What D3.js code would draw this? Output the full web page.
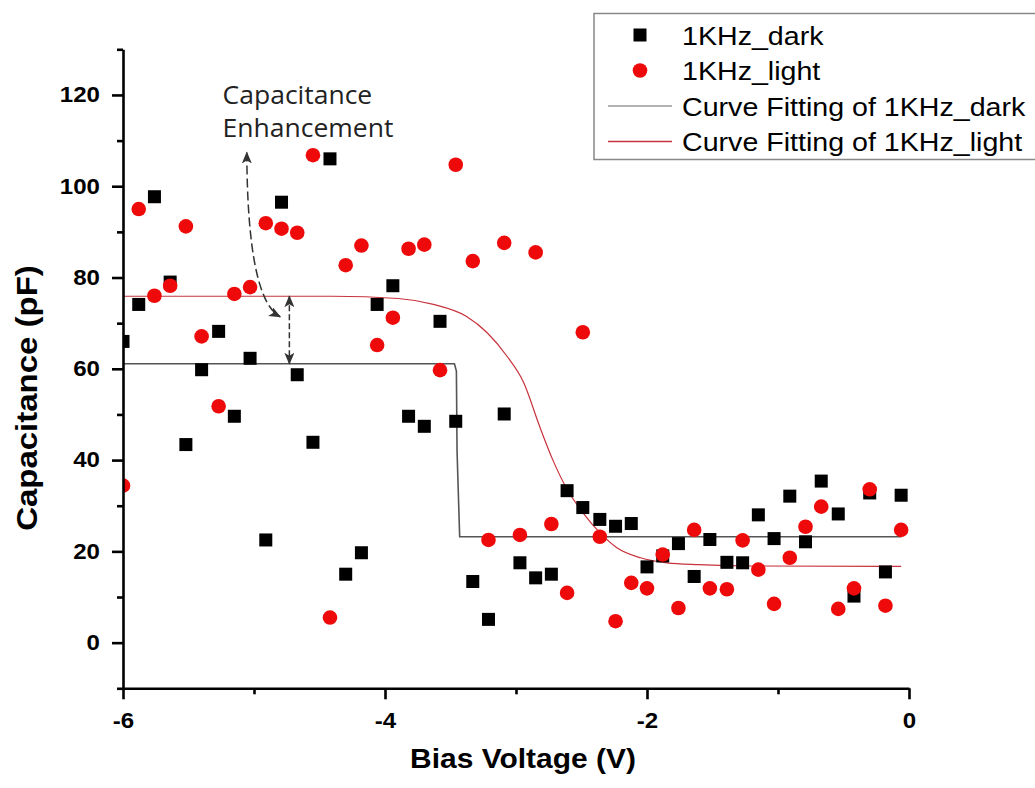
<!DOCTYPE html>
<html>
<head>
<meta charset="utf-8">
<script src="https://cdn.jsdelivr.net/npm/d3@7"></script>
<style>
  body { margin: 0; background: #fff; }
  #graphicContainer { width: 1035px; height: 788px; }
</style>
</head>
<body>
<div id="graphicContainer"></div>
<script>
// bias voltage of each measurement (V), shared by both series
var voltage = [-6.00, -5.88, -5.76, -5.64, -5.52, -5.40, -5.27, -5.15, -5.03, -4.91,
  -4.79, -4.67, -4.55, -4.42, -4.30, -4.18, -4.06, -3.94, -3.82, -3.70,
  -3.58, -3.46, -3.33, -3.21, -3.09, -2.97, -2.85, -2.73, -2.61, -2.49,
  -2.36, -2.24, -2.12, -2.00, -1.88, -1.76, -1.64, -1.52, -1.39, -1.27,
  -1.15, -1.03, -0.91, -0.79, -0.67, -0.54, -0.42, -0.30, -0.18, -0.06]

var darkCap = [66.0, 74.1, 97.7, 79.0, 43.4, 59.8, 68.2, 49.6, 62.3, 22.5,
  96.5, 58.7, 43.9, 106.0, 15.0, 19.7, 74.1, 78.2, 49.6, 47.4,
  70.4, 48.5, 13.4, 5.1, 50.1, 17.5, 14.2, 15.0, 33.3, 29.6,
  27.0, 25.5, 26.1, 16.6, 19.0, 21.7, 14.5, 22.6, 17.6, 17.5,
  28.0, 22.8, 32.1, 22.1, 35.4, 28.2, 10.2, 32.8, 15.5, 32.3]

var lightCap = [34.4, 95.0, 76.0, 78.2, 91.2, 67.1, 51.8, 76.4, 77.9, 91.9,
  90.7, 89.8, 106.8, 5.5, 82.7, 87.0, 65.2, 71.2, 86.3, 87.2,
  59.7, 104.7, 83.6, 22.5, 87.6, 23.6, 85.5, 26.0, 10.9, 68.0,
  23.2, 4.7, 13.1, 11.9, 19.3, 7.6, 24.7, 11.9, 11.7, 22.4,
  16.0, 8.5, 18.6, 25.4, 29.8, 7.4, 11.9, 33.6, 8.1, 24.7]

// fitted curves
var fitDarkV = [-6.00, -3.47, -3.455, -3.45, -3.43, -0.06]
var fitDarkC = [61.1, 61.1, 59.5, 42.0, 23.2, 23.2]
var fitLightV = [-6.00, -4.40, -3.90, -3.63, -3.38, -3.22, -3.07, -2.94, -2.82, -2.72,
  -2.61, -2.49, -2.36, -2.23, -2.05, -1.85, -1.60, -1.20, -0.06]
var fitLightC = [75.9, 75.9, 75.4, 74.1, 71.5, 67.9, 62.8, 56.9, 47.4, 40.1,
  33.6, 28.5, 24.1, 20.8, 18.6, 17.5, 17.1, 16.8, 16.7]

var xTicks = [-6, -4, -2, 0]
var xMinor = [-5, -3, -1]
var yTicks = [0, 20, 40, 60, 80, 100, 120]
var yMinor = [-10, 10, 30, 50, 70, 90, 110, 130]

var legendLabels = ["1KHz_dark", "1KHz_light", "Curve Fitting of 1KHz_dark", "Curve Fitting of 1KHz_light"]

var sansFont = "'Liberation Sans', Arial, sans-serif"
var noteFont = "'Open Sans', 'Noto Sans', sans-serif"

var width = 1035, height = 788

var svg = d3.select("#graphicContainer").append("svg")
  .attr("width", width)
  .attr("height", height)

var x = d3.scaleLinear().domain([-6, 0]).range([123, 909])
var y = d3.scaleLinear().domain([-10, 130]).range([688.3, 49.3])

// text is a bit wider than normal in the original
function addText(g, px, py, str, size, weight, anchor, family, sx) {
  return g.append("text")
    .attr("transform", "translate(" + px + "," + py + ") scale(" + sx + ",1)")
    .attr("font-family", family)
    .attr("font-size", size)
    .attr("font-weight", weight)
    .attr("text-anchor", anchor)
    .attr("fill", "#000")
    .text(str)
}

svg.append("defs").append("clipPath").attr("id", "plotClip")
  .append("rect")
  .attr("x", 123).attr("y", 40)
  .attr("width", 912).attr("height", 649)

var defs = svg.select("defs")
defs.append("marker")
  .attr("id", "arrowHead")
  .attr("viewBox", "0 0 12 10")
  .attr("refX", 11).attr("refY", 5)
  .attr("markerWidth", 12).attr("markerHeight", 10)
  .attr("markerUnits", "userSpaceOnUse")
  .attr("orient", "auto-start-reverse")
  .append("path")
  .attr("d", "M0,0L12,5L0,10L3,5Z")
  .attr("fill", "#333")

var plot = svg.append("g").attr("clip-path", "url(#plotClip)")

// fit lines
var darkLine = d3.line()
  .x(function (d, i) { return x(fitDarkV[i]) })
  .y(function (d) { return y(d) })

var lightLine = d3.line()
  .x(function (d, i) { return x(fitLightV[i]) })
  .y(function (d) { return y(d) })
  .curve(d3.curveMonotoneX)

plot.append("path")
  .attr("d", darkLine(fitDarkC))
  .attr("fill", "none")
  .attr("stroke", "#555")
  .attr("stroke-width", 1.6)

plot.append("path")
  .attr("d", lightLine(fitLightC))
  .attr("fill", "none")
  .attr("stroke", "#c8323c")
  .attr("stroke-width", 1.2)

// scatter points
plot.selectAll(".dark")
  .data(darkCap)
  .enter().append("rect")
  .attr("class", "dark")
  .attr("x", function (d, i) { return x(voltage[i]) - 6.5 })
  .attr("y", function (d) { return y(d) - 6.5 })
  .attr("width", 13)
  .attr("height", 13)
  .attr("fill", "#000")

plot.selectAll(".light")
  .data(lightCap)
  .enter().append("circle")
  .attr("class", "light")
  .attr("cx", function (d, i) { return x(voltage[i]) })
  .attr("cy", function (d) { return y(d) })
  .attr("r", 7.3)
  .attr("fill", "#ee0a0a")

// axes
var xAxis = d3.axisBottom(x).tickValues(xTicks).tickSize(11).tickSizeOuter(0)
  .tickFormat(function (d) { return String(d) })
var yAxis = d3.axisLeft(y).tickValues(yTicks).tickSize(11).tickSizeOuter(0)
  .tickFormat(function (d) { return String(d) })

var gx = svg.append("g")
  .attr("transform", "translate(0," + y(-10) + ")")
  .call(xAxis)
gx.append("g").call(d3.axisBottom(x).tickValues(xMinor).tickSize(6).tickFormat(""))
  .select(".domain").remove()

var gy = svg.append("g")
  .attr("transform", "translate(" + x(-6) + ",0)")
  .call(yAxis)
gy.append("g").call(d3.axisLeft(y).tickValues(yMinor).tickSize(6).tickFormat(""))
  .select(".domain").remove()

svg.selectAll(".domain, .tick line")
  .attr("stroke", "#000")
  .attr("stroke-width", 2.6)

gx.selectAll(".tick text")
  .attr("x", 0).attr("y", 0).attr("dy", 0)
  .attr("transform", "translate(0,40) scale(1.12,1)")
gy.selectAll(".tick text")
  .attr("x", 0)
  .attr("transform", "translate(-23,0) scale(1.12,1)")
svg.selectAll(".tick text")
  .attr("font-family", sansFont)
  .attr("font-size", 21.5)
  .attr("font-weight", "bold")
  .attr("fill", "#000")

// axis titles
addText(svg, 523, 768, "Bias Voltage (V)", 28, "bold", "middle", sansFont, 1.07)
svg.append("text")
  .attr("transform", "translate(37,398) rotate(-90) scale(1.1,1)")
  .attr("font-family", sansFont)
  .attr("font-size", 30)
  .attr("font-weight", "bold")
  .attr("text-anchor", "middle")
  .text("Capacitance (pF)")

// annotation
var note = svg.append("g")
addText(note, x(-5.24), y(118.0), "Capacitance", 25, "normal", "start", noteFont, 1.06).attr("fill", "#222")
addText(note, x(-5.24), y(110.7), "Enhancement", 25, "normal", "start", noteFont, 1.06).attr("fill", "#222")

note.append("path")
  .attr("d", "M" + x(-5.055) + "," + y(107.4) + "Q" + x(-5.05) + "," + y(75.2) + " " + x(-4.80) + "," + y(71.4))
  .attr("fill", "none")
  .attr("stroke", "#333")
  .attr("stroke-width", 1.5)
  .attr("stroke-dasharray", "9,4")
  .attr("marker-start", "url(#arrowHead)")
  .attr("marker-end", "url(#arrowHead)")

note.append("line")
  .attr("x1", x(-4.73)).attr("x2", x(-4.73))
  .attr("y1", y(75.9)).attr("y2", y(61.1))
  .attr("stroke", "#333")
  .attr("stroke-width", 1.5)
  .attr("stroke-dasharray", "6,3")
  .attr("marker-start", "url(#arrowHead)")
  .attr("marker-end", "url(#arrowHead)")

// legend
var legend = svg.append("g")
legend.append("rect")
  .attr("x", 594).attr("y", 13.5)
  .attr("width", 460).attr("height", 146)
  .attr("fill", "#fff")
  .attr("stroke", "#888")
  .attr("stroke-width", 1.5)

var rowY = [35, 70.5, 106, 141.5]
legend.append("rect")
  .attr("x", 633.5).attr("y", rowY[0] - 6.5)
  .attr("width", 13).attr("height", 13)
  .attr("fill", "#000")
legend.append("circle")
  .attr("cx", 640).attr("cy", rowY[1])
  .attr("r", 7.3)
  .attr("fill", "#ee0a0a")
legend.append("line")
  .attr("x1", 608).attr("x2", 672)
  .attr("y1", rowY[2]).attr("y2", rowY[2])
  .attr("stroke", "#999").attr("stroke-width", 1.5)
legend.append("line")
  .attr("x1", 608).attr("x2", 672)
  .attr("y1", rowY[3]).attr("y2", rowY[3])
  .attr("stroke", "#c8323c").attr("stroke-width", 1.5)

legendLabels.forEach(function (label, i) {
  addText(legend, 682, rowY[i] + 9.5, label, 26, "normal", "start", sansFont, 1.1)
})
</script>
</body>
</html>
